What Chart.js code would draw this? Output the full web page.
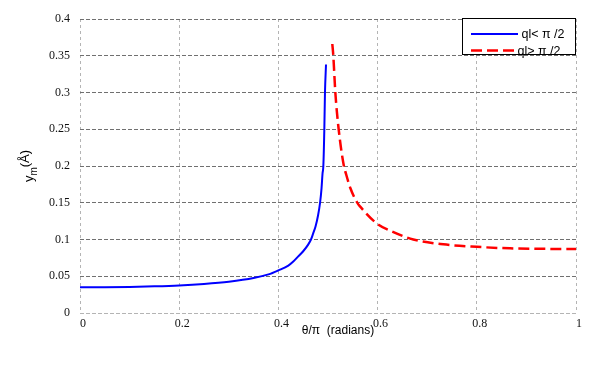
<!DOCTYPE html>
<html>
<head>
<meta charset="utf-8">
<script src="https://cdn.jsdelivr.net/npm/chart.js@4.4.1/dist/chart.umd.min.js"></script>
<style>
  html, body { margin: 0; padding: 0; background: #fff; }
  #wrap { width: 600px; height: 369px; }
</style>
</head>
<body>
<div id="wrap"><canvas id="chart" width="600" height="369"></canvas></div>
<script>
// values (theta/pi, y_m in Angstrom)
const blueTheta = [0, 0.05, 0.1, 0.15, 0.2, 0.25, 0.3, 0.35, 0.38, 0.4, 0.42, 0.43, 0.44, 0.45, 0.46, 0.4657, 0.47, 0.475, 0.48, 0.484, 0.487, 0.489, 0.4906, 0.4926, 0.4939, 0.496];
const blueY     = [0.035, 0.0351, 0.0355, 0.0363, 0.0375, 0.0395, 0.0425, 0.0475, 0.0525, 0.058, 0.0645, 0.07, 0.077, 0.084, 0.093, 0.1, 0.108, 0.118, 0.133, 0.15, 0.17, 0.19, 0.2, 0.25, 0.3, 0.338];
const redTheta  = [0.5087, 0.5107, 0.5148, 0.5215, 0.532, 0.536, 0.545, 0.559, 0.5645, 0.598, 0.632, 0.672, 0.7325, 0.8, 0.867, 0.95, 1.0];
const redY      = [0.366, 0.35, 0.3, 0.25, 0.2, 0.19, 0.17, 0.15, 0.145, 0.122, 0.11, 0.1, 0.0934, 0.09, 0.088, 0.0872, 0.087];
const seriesLabels = ['ql< \u03c0 /2', 'ql> \u03c0 /2'];
const xTitle = '\u03b8/\u03c0  (radians)';

const toPoints = (xs, ys) => xs.map((x, i) => ({ x: x, y: ys[i] }));
const fmt = v => String(+v.toFixed(2));

// axis titles + boxed legend in the top right corner
const decorations = {
    id: 'decorations',
    afterDraw(chart) {
        const ctx = chart.ctx;
        const area = chart.chartArea;
        ctx.save();

        // x title
        ctx.fillStyle = '#000';
        ctx.font = '12px "Liberation Sans", Arial, sans-serif';
        ctx.textAlign = 'center';
        ctx.textBaseline = 'middle';
        ctx.fillText(xTitle, 338, 331);

        // y title with subscript m
        ctx.translate(29, (area.top + area.bottom) / 2);
        ctx.rotate(-Math.PI / 2);
        ctx.textAlign = 'left';
        ctx.textBaseline = 'alphabetic';
        const big = '13px "Liberation Sans", Arial, sans-serif';
        const small = '10px "Liberation Sans", Arial, sans-serif';
        ctx.font = big;
        const wy = ctx.measureText('y').width;
        const wp = ctx.measureText('(\u00c5)').width;
        ctx.font = small;
        const wm = ctx.measureText('m').width;
        let x0 = -(wy + wm + wp) / 2;
        ctx.font = big;
        ctx.fillText('y', x0, 4);
        ctx.font = small;
        ctx.fillText('m', x0 + wy, 8);
        ctx.font = big;
        ctx.fillText('(\u00c5)', x0 + wy + wm, 0);
        ctx.setTransform(1, 0, 0, 1, 0, 0);

        // legend
        const bx = area.right - 114, by = area.top - 1, bw = 114, bh = 37;
        ctx.fillStyle = '#fff';
        ctx.fillRect(bx, by, bw, bh);
        ctx.strokeStyle = '#000';
        ctx.lineWidth = 1;
        ctx.strokeRect(bx + 0.5, by + 0.5, bw - 1, bh - 1);
        ctx.font = '12.5px "Liberation Sans", Arial, sans-serif';
        ctx.textBaseline = 'middle';
        ctx.textAlign = 'left';
        chart.data.datasets.forEach((ds, i) => {
            const ly = by + 16 + i * 16.5;
            ctx.beginPath();
            ctx.strokeStyle = ds.borderColor;
            ctx.lineWidth = ds.borderWidth;
            ctx.setLineDash(ds.borderDash || []);
            ctx.moveTo(bx + 9, ly);
            ctx.lineTo(bx + 56, ly);
            ctx.stroke();
            ctx.setLineDash([]);
            ctx.fillStyle = '#000';
            ctx.fillText(ds.label, bx + (i === 0 ? 59.5 : 55.5), ly + 1);
        });
        ctx.restore();
    }
};

new Chart(document.getElementById('chart'), {
    type: 'scatter',
    data: {
        datasets: [{
            label: seriesLabels[0],
            data: toPoints(blueTheta, blueY),
            showLine: true,
            borderColor: '#0000ff',
            borderWidth: 2,
            pointRadius: 0,
            cubicInterpolationMode: 'monotone'
        }, {
            label: seriesLabels[1],
            data: toPoints(redTheta, redY),
            showLine: true,
            borderColor: '#ff0000',
            borderWidth: 2.5,
            borderDash: [11, 5],
            pointRadius: 0,
            cubicInterpolationMode: 'monotone'
        }]
    },
    options: {
        responsive: false,
        animation: false,
        events: [],
        layout: { padding: { left: 0, top: 19, right: 24, bottom: 32 } },
        plugins: { legend: { display: false }, tooltip: { enabled: false } },
        scales: {
            x: {
                type: 'linear',
                min: 0,
                max: 1,
                afterFit: s => { s.height = 24; },
                ticks: {
                    stepSize: 0.2,
                    padding: 4,
                    labelOffset: 3,
                    maxRotation: 0,
                    color: '#111',
                    font: { family: '"Liberation Serif", "Times New Roman", serif', size: 12 },
                    callback: fmt
                },
                grid: { color: '#b4b4b4', lineWidth: 1, drawTicks: false },
                border: { display: false, dash: [3, 3] }
            },
            y: {
                type: 'linear',
                min: 0,
                max: 0.4,
                afterFit: s => { s.width = 80; },
                ticks: {
                    stepSize: 0.05,
                    padding: 10,
                    color: '#111',
                    font: { family: '"Liberation Serif", "Times New Roman", serif', size: 12 },
                    callback: fmt
                },
                grid: {
                    color: c => (c.tick && c.tick.value === 0 ? '#b4b4b4' : '#707070'),
                    lineWidth: 1,
                    drawTicks: false
                },
                border: { display: false, dash: [4, 2] }
            }
        }
    },
    plugins: [decorations]
});
</script>
</body>
</html>
